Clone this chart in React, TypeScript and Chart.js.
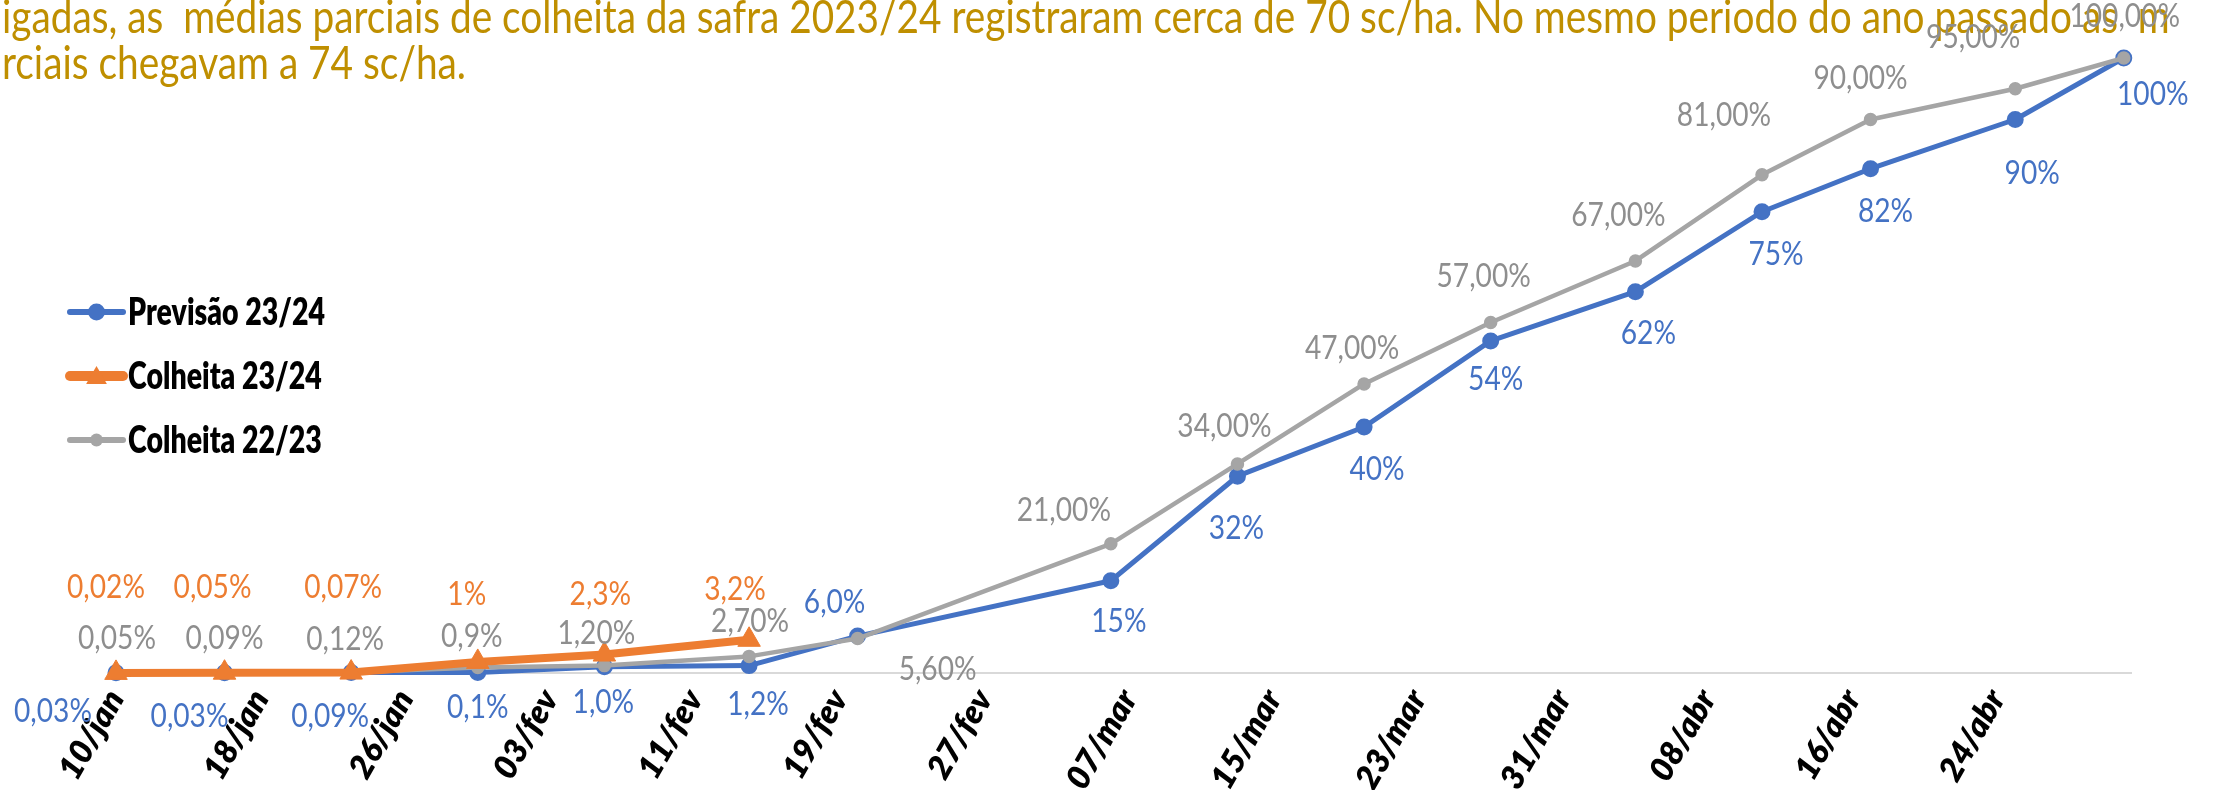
import React, { useEffect, useRef } from 'react';
import { Chart, registerables } from 'chart.js';

Chart.register(...registerables);

// ---------- data ----------
const tickDays = [0, 8, 16, 24, 32, 40, 48, 56, 64, 72, 80, 88, 96, 104];
const tickLabels = ['10/jan', '18/jan', '26/jan', '03/fev', '11/fev', '19/fev', '27/fev', '07/mar', '15/mar', '23/mar', '31/mar', '08/abr', '16/abr', '24/abr'];

const pointDays = [0, 6, 13, 20, 27, 35, 41, 55, 62, 69, 76, 84, 91, 97, 105, 111];

const previsao2324 = [0.03, 0.03, 0.09, 0.1, 1.0, 1.2, 6.0, 15, 32, 40, 54, 62, 75, 82, 90, 100];
const previsao2324Labels = ['0,03%', '0,03%', '0,09%', '0,1%', '1,0%', '1,2%', '6,0%', '15%', '32%', '40%', '54%', '62%', '75%', '82%', '90%', '100%'];

const colheita2324 = [0.02, 0.05, 0.07, 1.8, 3.0, 5.4];
const colheita2324Labels = ['0,02%', '0,05%', '0,07%', '1%', '2,3%', '3,2%'];

const colheita2223 = [0.05, 0.09, 0.12, 0.9, 1.2, 2.7, 5.6, 21, 34, 47, 57, 67, 81, 90, 95, 100];
const colheita2223Labels = ['0,05%', '0,09%', '0,12%', '0,9%', '1,20%', '2,70%', '5,60%', '21,00%', '34,00%', '47,00%', '57,00%', '67,00%', '81,00%', '90,00%', '95,00%', '100,00%'];

const seriesNames = ['Previsão 23/24', 'Colheita 23/24', 'Colheita 22/23'];

const titleLine1 = 'igadas, as  médias parciais de colheita da safra 2023/24 registraram cerca de 70 sc/ha. No mesmo periodo do ano passado as  m';
const titleLine1Fit = 'igadas, as  médias parciais de colheita da safra 2023/24 registraram cerca de 70 sc/ha. No mesmo periodo do ano passado as';
const titleLine2 = 'rciais chegavam a 74 sc/ha.';

// ---------- layout (label nudges, not data) ----------
const previsaoOffsets = [[-63, 39], [-35, 44], [-21, 44], [0, 35], [-1, 36], [9, 39], [-23, -33], [8, 41], [-1, 52], [13, 43], [5, 39], [13, 42], [14, 43], [15, 43], [17, 54], [29, 37]];
const colheita2324Offsets = [[-10, -85], [-12, -85], [-8, -85], [-11, -67], [-4, -60], [-14, -50]];
const colheita2223Offsets = [[1, -34], [0, -34], [-6, -33], [-6, -31], [-8, -32], [1, -35], [80, 31], [-47, -33], [-13, -37], [-12, -35], [-7, -46], [-17, -45], [-38, -59], [-10, -41], [-42, -51], [1, -41]];

const W = 2213;
const H = 790;

const BLUE = '#4472C4';
const ORANGE = '#ED7D31';
const GRAY = '#A5A5A5';
const GRAY_TEXT = '#8E8E8E';
const GOLD = '#BF8F00';

const seriesLabelSets = [
  { labels: previsao2324Labels, offsets: previsaoOffsets, color: BLUE },
  { labels: colheita2324Labels, offsets: colheita2324Offsets, color: ORANGE },
  { labels: colheita2223Labels, offsets: colheita2223Offsets, color: GRAY_TEXT },
];

const legendStyles = [
  { lineWidth: 6, marker: 'circle', r: 8.5 },
  { lineWidth: 10, marker: 'triangle', r: 12 },
  { lineWidth: 6, marker: 'circle', r: 6.5 },
];

const titlePlugin = {
  id: 'titleText',
  beforeDraw(chart: any) {
    const ctx = chart.ctx as CanvasRenderingContext2D;
    ctx.save();
    ctx.fillStyle = GOLD;
    ctx.font = '46px Lato';
    ctx.textAlign = 'left';
    ctx.textBaseline = 'alphabetic';
    const rows: [string, string, number, number][] = [
      [titleLine1, titleLine1Fit, 2116, 33],
      [titleLine2, titleLine2, 464, 79],
    ];
    rows.forEach(([txt, fit, target, base]) => {
      const w = ctx.measureText(fit).width;
      const sx = target / w;
      ctx.save();
      ctx.translate(2, base);
      ctx.scale(sx, 1);
      ctx.fillText(txt, 0, 0);
      ctx.restore();
    });
    ctx.restore();
  },
};

const dataLabelPlugin = {
  id: 'pointLabels',
  afterDatasetsDraw(chart: any) {
    const ctx = chart.ctx as CanvasRenderingContext2D;
    ctx.save();
    ctx.font = '32px Lato';
    ctx.textAlign = 'center';
    ctx.textBaseline = 'middle';
    chart.data.datasets.forEach((_ds: any, di: number) => {
      const meta = chart.getDatasetMeta(di);
      const set = seriesLabelSets[di];
      ctx.fillStyle = set.color;
      meta.data.forEach((el: any, i: number) => {
        const [dx, dy] = set.offsets[i] || [0, -30];
        ctx.save();
        ctx.translate(el.x + dx, el.y + dy);
        ctx.scale(0.88, 1);
        ctx.fillText(set.labels[i], 0, 0);
        ctx.restore();
      });
    });
    ctx.restore();
  },
};

const legendPlugin = {
  id: 'sideLegend',
  afterDraw(chart: any) {
    const ctx = chart.ctx as CanvasRenderingContext2D;
    ctx.save();
    ctx.font = '800 37px Lato';
    const sx = 197 / ctx.measureText(seriesNames[0]).width;
    chart.data.datasets.forEach((ds: any, i: number) => {
      const st = legendStyles[i];
      const y = 312 + i * 64;
      const x0 = 70;
      const x1 = 123;
      const cx = (x0 + x1) / 2;
      ctx.strokeStyle = ds.borderColor;
      ctx.fillStyle = ds.borderColor;
      ctx.lineWidth = st.lineWidth;
      ctx.lineCap = 'round';
      ctx.beginPath();
      ctx.moveTo(x0, y);
      ctx.lineTo(x1, y);
      ctx.stroke();
      ctx.beginPath();
      if (st.marker === 'circle') {
        ctx.arc(cx, y, st.r, 0, Math.PI * 2);
      } else {
        const r = st.r;
        const yc = y + 2;
        ctx.moveTo(cx, yc - r);
        ctx.lineTo(cx + r * 0.866, yc + r * 0.5);
        ctx.lineTo(cx - r * 0.866, yc + r * 0.5);
        ctx.closePath();
      }
      ctx.fill();
      ctx.fillStyle = '#000000';
      ctx.font = '800 37px Lato';
      ctx.textAlign = 'left';
      ctx.textBaseline = 'middle';
      ctx.save();
      ctx.translate(128, y + 1);
      ctx.scale(sx, 1);
      ctx.fillText(ds.label, 0, 0);
      ctx.restore();
    });
    ctx.restore();
  },
};

function toPoints(values: number[]) {
  return values.map((v, i) => ({ x: pointDays[i], y: v }));
}

export default function App() {
  const ref = useRef<HTMLCanvasElement>(null);

  useEffect(() => {
    document.body.style.margin = '0';
    const canvas = ref.current;
    if (!canvas) return;
    const chart = new Chart(canvas, {
      type: 'line',
      data: {
        datasets: [
          {
            label: seriesNames[0],
            data: toPoints(previsao2324),
            borderColor: BLUE,
            backgroundColor: BLUE,
            borderWidth: 5,
            pointRadius: 7.5,
            pointBorderWidth: 2,
            pointStyle: 'circle',
            pointBackgroundColor: BLUE,
            pointBorderColor: BLUE,
            borderJoinStyle: 'round',
            borderCapStyle: 'round',
            tension: 0,
            order: 3,
            clip: false as any,
          },
          {
            label: seriesNames[1],
            data: toPoints(colheita2324),
            borderColor: ORANGE,
            backgroundColor: ORANGE,
            borderWidth: 8,
            pointRadius: 13,
            pointBorderWidth: 1,
            pointStyle: 'triangle',
            pointBackgroundColor: ORANGE,
            pointBorderColor: ORANGE,
            borderJoinStyle: 'round',
            borderCapStyle: 'round',
            tension: 0,
            order: 1,
            clip: false as any,
          },
          {
            label: seriesNames[2],
            data: toPoints(colheita2223),
            borderColor: GRAY,
            backgroundColor: GRAY,
            borderWidth: 4.5,
            pointRadius: 6,
            pointBorderWidth: 1.5,
            pointStyle: 'circle',
            pointBackgroundColor: GRAY,
            pointBorderColor: GRAY,
            borderJoinStyle: 'round',
            borderCapStyle: 'round',
            tension: 0,
            order: 2,
            clip: false as any,
          },
        ],
      },
      options: {
        responsive: false,
        animation: false,
        events: [],
        layout: { padding: { left: 116, right: 82, top: 58, bottom: 0 } },
        plugins: {
          legend: { display: false },
          tooltip: { enabled: false },
          title: { display: false },
        },
        scales: {
          x: {
            type: 'linear',
            min: 0,
            max: 111.4,
            afterFit: (scale: any) => {
              scale.height = 117;
            },
            afterBuildTicks: (axis: any) => {
              axis.ticks = tickDays.map((v) => ({ value: v }));
            },
            grid: { display: false, drawTicks: false },
            border: { display: true, color: '#D9D9D9', width: 2 },
            ticks: {
              autoSkip: false,
              minRotation: 60,
              maxRotation: 60,
              padding: 10,
              color: '#000000',
              font: { family: 'Lato', size: 33, weight: '800', style: 'italic' },
              callback: (value: any) => {
                const i = tickDays.indexOf(Number(value));
                return i >= 0 ? tickLabels[i] : '';
              },
            },
          },
          y: {
            display: false,
            min: 0,
            max: 100,
          },
        },
      },
      plugins: [titlePlugin, dataLabelPlugin, legendPlugin],
    } as any);
    return () => chart.destroy();
  }, []);

  return (
    <div style={{ width: W, height: H, position: 'relative', background: '#ffffff' }}>
      <canvas ref={ref} width={W} height={H} style={{ display: 'block' }} />
    </div>
  );
}
